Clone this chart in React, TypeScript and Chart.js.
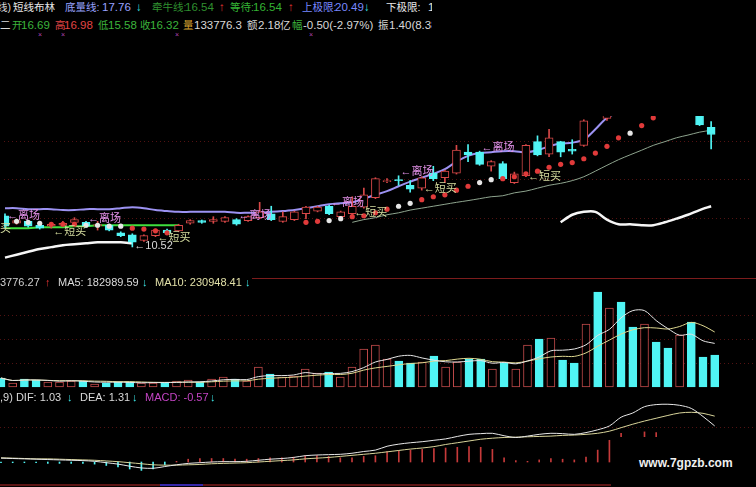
import React, { useEffect, useRef } from "react";
import { Chart, registerables } from "chart.js";

Chart.register(...registerables);

const _ = null;

// ---------- price pane (daily candles) ----------
const candleIndex = Array.from({ length: 62 }, (_v, i) => i);

const opens = [
  12.13, 11.74, 11.84, 11.64, 11.59, 11.64, 11.79, 11.79, 11.62, 11.64,
  11.25, 11.15, 10.86, 11.10, 11.39, 11.35, 11.74, 11.88, 11.84, 11.84,
  11.93, 11.88, 12.03, 12.23, 11.84, 11.93, 12.23, 12.37, 12.62, 12.08,
  12.23, 12.57, 13.06, 13.89, 13.99, 13.70, 13.55, 14.33, 14.09, 14.33,
  15.41, 15.41, 14.68, 14.82, 13.84, 14.19, 15.95, 15.31, 15.95, 15.56,
  15.76, 18.30, 17.15, 18.00, 17.90, 17.60, 18.30, 17.90, 17.50, 18.10,
  17.60, 16.69,
];
const highs = [
  12.23, 11.93, 11.88, 11.69, 11.79, 11.84, 12.03, 11.84, 11.84, 11.69,
  11.30, 11.20, 11.15, 11.44, 11.44, 11.69, 11.93, 11.91, 12.08, 12.08,
  11.98, 12.13, 12.82, 12.62, 12.33, 12.37, 12.62, 12.62, 12.67, 12.37,
  13.11, 13.55, 14.09, 14.04, 14.19, 13.94, 14.14, 14.68, 14.48, 15.76,
  15.80, 15.46, 14.97, 14.92, 14.38, 15.80, 16.25, 16.59, 15.97, 16.05,
  17.08, 18.60, 18.10, 18.60, 18.30, 18.40, 18.60, 18.10, 18.20, 18.30,
  17.70, 16.98,
];
const lows = [
  11.49, 11.69, 11.54, 11.44, 11.49, 11.59, 11.69, 11.54, 11.39, 11.35,
  11.05, 10.52, 10.81, 11.05, 11.20, 11.30, 11.69, 11.74, 11.74, 11.79,
  11.64, 11.84, 11.98, 11.88, 11.79, 11.88, 11.98, 12.33, 12.18, 12.03,
  12.18, 12.52, 13.01, 13.84, 13.70, 13.35, 13.45, 13.94, 13.84, 14.28,
  14.92, 14.73, 14.43, 13.99, 13.79, 14.14, 15.22, 15.17, 15.17, 15.31,
  15.71, 17.30, 17.05, 17.60, 17.40, 17.50, 17.70, 17.40, 17.40, 17.50,
  16.78, 15.58,
];
const closes = [
  11.59, 11.88, 11.59, 11.49, 11.69, 11.74, 11.93, 11.59, 11.67, 11.39,
  11.10, 10.76, 11.10, 11.39, 11.25, 11.64, 11.88, 11.79, 11.93, 12.03,
  11.69, 12.08, 12.33, 11.93, 12.08, 12.33, 12.57, 12.57, 12.23, 12.33,
  12.62, 13.21, 14.04, 13.94, 13.94, 13.50, 14.09, 14.04, 14.43, 15.51,
  15.27, 14.78, 14.92, 14.04, 14.29, 15.76, 15.27, 16.15, 15.41, 15.46,
  17.03, 17.45, 17.90, 17.80, 17.50, 18.20, 17.90, 17.50, 18.00, 17.60,
  16.82, 16.32,
];

// 底量线 (lavender band line)
const bottomVolumeLine = [
  12.52, 12.52, 12.47, 12.47, 12.47, 12.42, 12.42, 12.47, 12.47, 12.47,
  12.52, 12.57, 12.52, 12.42, 12.37, 12.33, 12.33, 12.33, 12.33, 12.33,
  12.28, 12.28, 12.28, 12.33, 12.37, 12.42, 12.52, 12.62, 12.72, 12.77,
  12.82, 13.01, 13.21, 13.40, 13.65, 13.89, 14.09, 14.29, 14.53, 14.92,
  15.22, 15.36, 15.41, 15.46, 15.46, 15.41, 15.51, 15.71, 15.85, 15.90,
  16.05, 16.59, 17.18, 17.45, 17.60, 17.70, 17.75, 17.80, 17.80, 17.80,
  17.78, 17.76,
];
// 牵牛线 (thin grey-green line)
const pullLine = [
  _, _, _, _, _, _, _, _, _, _,
  _, _, _, _, _, _, _, _, _, _,
  _, _, _, _, _, _, _, _, _, _,
  11.79, 11.93, 12.03, 12.18, 12.28, 12.42, 12.52, 12.62, 12.72, 12.82,
  12.91, 13.01, 13.11, 13.16, 13.31, 13.40, 13.55, 13.70, 13.80, 13.94,
  14.14, 14.43, 14.73, 15.02, 15.27, 15.51, 15.76, 15.95, 16.15, 16.29,
  16.44, 16.54,
];
// 下极限 (thick white line)
const lowerLimit = [
  9.97, 10.12, 10.27, 10.41, 10.51, 10.61, 10.66, 10.71, 10.76, 10.76,
  10.76, 10.71, _, _, _, _, _, _, _, _,
  _, _, _, _, _, _, _, _, _, _,
  _, _, _, _, _, _, _, _, _, _,
  _, _, _, _, _, _, _, _, 11.79, 12.18,
  12.33, 12.33, 11.93, 11.69, 11.69, 11.64, 11.64, 11.79, 11.98, 12.18,
  12.42, 12.62,
];
// 等待 (green line)
const waitLine = [
  11.49, 11.49, 11.49, 11.54, 11.54, 11.54, 11.59, 11.59, 11.64, 11.64,
  11.64, 11.64, 11.64, 11.64, 11.64, 11.64, _, _, _, _,
  _, _, _, _, _, _, _, _, _, _,
  _, _, _, _, _, _, _, _, _, _,
  _, _, _, _, _, _, _, _, _, _,
  _, _, _, _, _, _, _, _, _, _,
  _, _,
];
// dotted trail (r = red dot, w = white dot)
const dotValues = [
  _, 11.84, 11.79, 11.74, 11.69, 11.69, 11.69, 11.64, 11.64, 11.59,
  11.59, 11.49, 11.44, 11.35, 11.25, _, _, _, _, _,
  _, _, _, _, _, _, 11.79, 11.84, 11.88, 11.98,
  12.08, 12.13, 12.28, 12.47, 12.62, 12.77, 12.96, 13.11, 13.21, 13.45,
  13.65, 13.84, 13.99, 14.04, 14.14, 14.29, 14.43, 14.63, 14.78, 14.87,
  15.07, 15.36, 15.71, 16.15, 16.39, 16.78, 17.18, _, _, _,
  _, _,
];
const dotKinds = (
  "-" + "www" + "rrr" + "wwww" + "rrrr" + "-----------" + "rr" + "ww" + "rrrr" +
  "ww" + "rrrrr" + "ww" + "rrrrrrrrrrr" + "w" + "rr" + "-----"
).split("");

// signal labels
const exitIdx = [0, 7, 20, 28, 34, 41];
const exitPrice = [12.13, 11.98, 12.13, 12.77, 14.38, 15.61];
const buyIdx = [-2.5, 4, 13, 30, 36, 45];
const buyPrice = [11.44, 11.3, 11.0, 12.28, 13.5, 14.14];
const lowMarkIdx = 11;
const lowMarkPrice = 10.52;

// ---------- volume pane ----------
const volumes = [
  37600, 16800, 33500, 29200, 21000, 20800, 25100, 25000, 12600, 16700,
  20900, 21100, 16800, 16600, 16900, 25200, 29300, 20800, 33400, 41900,
  33500, 25000, 83700, 54300, 41700, 46000, 75300, 58500, 62600, 41900,
  83500, 158900, 175600, 117000, 108700, 100400, 104500, 129600, 83500, 104600,
  117100, 116900, 75200, 100300, 75300, 175500, 200700, 204800, 112900, 100300,
  263300, 397100, 330200, 355300, 250800, 263300, 188100, 163000, 217400, 271700,
  125400, 133776,
];

// ---------- MACD pane ----------
const difValues = [
  0.11, 0.10, 0.09, 0.08, 0.07, 0.06, 0.05, 0.04, 0.02, -0.02,
  -0.06, -0.12, -0.17, -0.18, -0.13, -0.08, -0.04, -0.02, 0.00, 0.01,
  0.01, 0.02, 0.05, 0.08, 0.10, 0.13, 0.18, 0.20, 0.21, 0.22,
  0.25, 0.30, 0.34, 0.45, 0.51, 0.55, 0.58, 0.62, 0.66, 0.73,
  0.79, 0.81, 0.82, 0.75, 0.70, 0.74, 0.79, 0.82, 0.81, 0.79,
  0.84, 0.92, 1.03, 1.28, 1.40, 1.58, 1.64, 1.65, 1.62, 1.53,
  1.30, 1.03,
];
const deaValues = [
  0.12, 0.11, 0.10, 0.09, 0.09, 0.08, 0.07, 0.06, 0.05, 0.03,
  0.01, -0.02, -0.05, -0.08, -0.09, -0.09, -0.08, -0.07, -0.05, -0.04,
  -0.03, -0.02, 0.00, 0.02, 0.04, 0.06, 0.09, 0.11, 0.13, 0.16,
  0.19, 0.22, 0.25, 0.29, 0.33, 0.37, 0.40, 0.44, 0.50, 0.55,
  0.60, 0.65, 0.68, 0.70, 0.71, 0.72, 0.73, 0.74, 0.76, 0.77,
  0.79, 0.82, 0.88, 0.98, 1.08, 1.17, 1.25, 1.33, 1.40, 1.42,
  1.39, 1.31,
];
const macdValues = [
  -0.02, -0.02, -0.02, -0.02, -0.04, -0.04, -0.04, -0.04, -0.06, -0.10,
  -0.14, -0.20, -0.24, -0.20, -0.08, 0.02, 0.08, 0.10, 0.10, 0.10,
  0.08, 0.08, 0.10, 0.12, 0.12, 0.14, 0.18, 0.18, 0.16, 0.12,
  0.12, 0.16, 0.18, 0.30, 0.32, 0.34, 0.36, 0.38, 0.40, 0.42,
  0.44, 0.42, 0.36, 0.12, 0.04, 0.02, 0.06, 0.10, 0.08, 0.06,
  0.14, 0.34, 0.62, 0.82, 0.68, 0.86, 0.84, 0.64, 0.40, 0.16,
  -0.28, -0.57,
];

// grid levels
const priceGrid = [12, 14, 16];
const volumeGrid = [100000, 200000, 300000];
const macdGrid = [1];

// ---------- styling ----------
const UP = "#d84848";
const DOWN = "#50f4f4";
const FONT = '"Liberation Sans", "Noto Sans CJK SC", sans-serif';

const xScale = { type: "linear", min: -0.0855, max: 64.53, display: false, offset: false };

const pts = (vals: (number | null)[]) => vals.map((v, i) => ({ x: i, y: v }));
const isUp = (i: number) => closes[i] >= opens[i];

const movingAverage = (vals: number[], n: number) =>
  vals.map((_v, i) => {
    const s = vals.slice(Math.max(0, i - n + 1), i + 1);
    return s.reduce((a, b) => a + b, 0) / s.length;
  });

function gridPlugin(levels: number[]) {
  return {
    id: "dottedGrid",
    beforeDatasetsDraw(chart: any) {
      const { ctx, chartArea, scales } = chart;
      ctx.save();
      ctx.strokeStyle = "rgba(110,24,24,0.75)";
      ctx.lineWidth = 1;
      ctx.setLineDash([1, 3]);
      levels.forEach((v) => {
        const y = Math.round(scales.y.getPixelForValue(v)) + 0.5;
        ctx.beginPath();
        ctx.moveTo(chartArea.left, y);
        ctx.lineTo(chartArea.right, y);
        ctx.stroke();
      });
      ctx.restore();
    },
  };
}

const signalPlugin = {
  id: "signalLabels",
  afterDatasetsDraw(chart: any) {
    const { ctx, scales } = chart;
    const X = (i: number) => scales.x.getPixelForValue(i);
    const Y = (p: number) => scales.y.getPixelForValue(p);
    ctx.save();
    ctx.textBaseline = "middle";
    ctx.font = '11px "Liberation Sans", "Noto Sans CJK SC"';
    exitIdx.forEach((i, k) => {
      ctx.fillStyle = "#e492ea";
      ctx.fillText("←离场", X(i) + 2, Y(exitPrice[k]));
    });
    buyIdx.forEach((i, k) => {
      ctx.fillStyle = "#d6dea0";
      ctx.fillText("←短买", X(i) + 2, Y(buyPrice[k]));
    });
    ctx.fillStyle = "#d8d8d8";
    ctx.font = '11px "Liberation Sans"';
    ctx.fillText("←" + lowMarkPrice.toFixed(2), X(lowMarkIdx) + 2, Y(lowMarkPrice) - 1);
    ctx.restore();
  },
};

const baseOptions = (yMin: number, yMax: number) => ({
  animation: false,
  responsive: false,
  maintainAspectRatio: false,
  devicePixelRatio: 1,
  events: [],
  layout: { padding: 0 },
  plugins: { legend: { display: false }, tooltip: { enabled: false }, title: { display: false } },
  scales: {
    x: xScale,
    y: { type: "linear", display: false, min: yMin, max: yMax },
  },
});

function makePriceChart(canvas: HTMLCanvasElement) {
  const upDown = candleIndex.map((i) => isUp(i));
  return new Chart(canvas, {
    type: "bar",
    data: {
      datasets: [
        {
          type: "line",
          data: pts(dotValues),
          showLine: false,
          pointRadius: 2.6,
          pointBorderWidth: 0,
          pointBackgroundColor: dotKinds.map((k) => (k === "w" ? "#e6e6e6" : "#e03a3a")),
        },
        {
          type: "bar",
          data: candleIndex.map((i) => ({ x: i, y: [Math.min(opens[i], closes[i]), Math.max(opens[i], closes[i])] })),
          backgroundColor: upDown.map((u) => (u ? "#000000" : DOWN)),
          borderColor: upDown.map((u) => (u ? UP : DOWN)),
          borderWidth: 1,
          borderSkipped: false,
          barThickness: 8,
          grouped: false,
        },
        {
          type: "bar",
          data: candleIndex.map((i) => ({ x: i, y: [lows[i], highs[i]] })),
          backgroundColor: upDown.map((u) => (u ? UP : DOWN)),
          borderWidth: 0,
          barThickness: 1,
          grouped: false,
        },
        { type: "line", data: pts(bottomVolumeLine), borderColor: "#9c92f2", borderWidth: 2, pointRadius: 0, tension: 0.3 },
        { type: "line", data: pts(pullLine), borderColor: "#8ea48e", borderWidth: 1, pointRadius: 0, tension: 0.3 },
        { type: "line", data: pts(waitLine), borderColor: "#3ee03e", borderWidth: 2, pointRadius: 0 },
        { type: "line", data: pts(lowerLimit), borderColor: "#f6f6f6", borderWidth: 2.5, pointRadius: 0, tension: 0.3 },
      ],
    },
    options: baseOptions(9.434, 17.274) as any,
    plugins: [gridPlugin(priceGrid), signalPlugin],
  } as any);
}

function makeVolumeChart(canvas: HTMLCanvasElement) {
  const upDown = candleIndex.map((i) => isUp(i));
  return new Chart(canvas, {
    type: "bar",
    data: {
      datasets: [
        { type: "line", data: pts(movingAverage(volumes, 5)), borderColor: "#e6e6e6", borderWidth: 1, pointRadius: 0, tension: 0.3 },
        { type: "line", data: pts(movingAverage(volumes, 10)), borderColor: "#ded890", borderWidth: 1, pointRadius: 0, tension: 0.3 },
        {
          type: "bar",
          data: pts(volumes),
          backgroundColor: upDown.map((u) => (u ? "#000000" : DOWN)),
          borderColor: upDown.map((u) => (u ? "#c04a4a" : DOWN)),
          borderWidth: 1,
          borderSkipped: false,
          barThickness: 8,
          grouped: false,
        },
      ],
    },
    options: baseOptions(-12540, 447260) as any,
    plugins: [gridPlugin(volumeGrid)],
  } as any);
}

function makeMacdChart(canvas: HTMLCanvasElement) {
  return new Chart(canvas, {
    type: "bar",
    data: {
      datasets: [
        { type: "line", data: pts(difValues), borderColor: "#e8e8e8", borderWidth: 1, pointRadius: 0, tension: 0.3 },
        { type: "line", data: pts(deaValues), borderColor: "#d8d49a", borderWidth: 1, pointRadius: 0, tension: 0.3 },
        {
          type: "bar",
          data: pts(macdValues),
          backgroundColor: macdValues.map((v) => (v >= 0 ? "#c63a3a" : DOWN)),
          borderWidth: 0,
          barThickness: 1,
          grouped: false,
        },
      ],
    },
    options: baseOptions(-0.714, 1.771) as any,
    plugins: [gridPlugin(macdGrid)],
  } as any);
}

const T = ({ x, y, c, s = 11.5, children }: any) => (
  <span
    style={{
      position: "absolute",
      left: x,
      top: y - 8,
      height: 16,
      lineHeight: "16px",
      fontSize: s,
      color: c,
      whiteSpace: "nowrap",
      fontFamily: FONT,
    }}
  >
    {children}
  </span>
);

const CJK = 10.5;
const ARROW_UP = "#e83434";
const ARROW_DN = "#3ce6e6";

export default function App() {
  const priceRef = useRef<HTMLCanvasElement>(null);
  const volRef = useRef<HTMLCanvasElement>(null);
  const macdRef = useRef<HTMLCanvasElement>(null);

  useEffect(() => {
    document.body.style.margin = "0";
    document.body.style.background = "#000";
    const charts = [
      makePriceChart(priceRef.current!),
      makeVolumeChart(volRef.current!),
      makeMacdChart(macdRef.current!),
    ];
    return () => charts.forEach((c) => c.destroy());
  }, []);

  const cv = (top: number, h: number): React.CSSProperties => ({
    position: "absolute",
    left: 0,
    top,
    width: 756,
    height: h,
    display: "block",
  });

  return (
    <div style={{ position: "fixed", left: 0, top: 0, width: 756, height: 487, background: "#000", overflow: "hidden" }}>
      {/* separators */}
      <div style={{ position: "absolute", left: 252, top: 278, width: 504, height: 1, background: "#7c1c1c" }} />
      <div style={{ position: "absolute", left: 0, top: 484, width: 611, height: 2, background: "#5c1414" }} />
      <div style={{ position: "absolute", left: 160, top: 484, width: 43, height: 2, background: "#3626a8" }} />

      <canvas ref={priceRef} width={756} height={160} style={cv(112, 160)} />
      <canvas ref={volRef} width={756} height={110} style={cv(280, 110)} />
      <canvas ref={macdRef} width={756} height={87} style={cv(400, 87)} />

      {/* header lines */}
      <div style={{ position: "absolute", left: 0, top: 0, width: 432, height: 40, overflow: "hidden" }}>
        <T x={-3} y={7} c="#d8d8d8" s={CJK}>线)</T>
        <T x={13} y={7} c="#e8e8e8" s={CJK}>短线布林</T>
        <T x={65} y={7} c="#98a2ff" s={CJK}>底量线:</T>
        <T x={102} y={7} c="#98a2ff">17.76</T>
        <T x={136} y={7} c={ARROW_DN}>↓</T>
        <T x={152} y={7} c="#2f8f2f" s={CJK}>牵牛线:</T>
        <T x={185} y={7} c="#2f8f2f">16.54</T>
        <T x={219} y={7} c={ARROW_UP}>↑</T>
        <T x={230} y={7} c="#34b434" s={CJK}>等待:</T>
        <T x={253} y={7} c="#34b434">16.54</T>
        <T x={288} y={7} c={ARROW_UP}>↑</T>
        <T x={302} y={7} c="#7888ff" s={CJK}>上极限:</T>
        <T x={335} y={7} c="#7888ff">20.49</T>
        <T x={364} y={7} c={ARROW_DN}>↓</T>
        <T x={386} y={7} c="#e8e8e8" s={CJK}>下极限:</T>
        <T x={428} y={7} c="#e8e8e8">1</T>

        <T x={0} y={25} c="#d8d8d8" s={CJK}>二</T>
        <T x={12} y={25} c="#3cb43c" s={CJK}>开</T>
        <T x={21} y={25} c="#3cb43c">16.69</T>
        <T x={55} y={25} c="#e04444" s={CJK}>高</T>
        <T x={64} y={25} c="#e04444">16.98</T>
        <T x={98} y={25} c="#3cb43c" s={CJK}>低</T>
        <T x={108} y={25} c="#3cb43c">15.58</T>
        <T x={140} y={25} c="#3cb43c" s={CJK}>收</T>
        <T x={150} y={25} c="#3cb43c">16.32</T>
        <T x={183} y={25} c="#d4a030" s={CJK}>量</T>
        <T x={194} y={25} c="#d8d8d8">133776.3</T>
        <T x={247} y={25} c="#d8d8d8" s={CJK}>额</T>
        <T x={258} y={25} c="#d8d8d8">2.18</T>
        <T x={280} y={25} c="#d8d8d8" s={CJK}>亿</T>
        <T x={292} y={25} c="#3cb43c" s={CJK}>幅</T>
        <T x={303} y={25} c="#d8d8d8">-0.50(-2.97%)</T>
        <T x={378} y={25} c="#d8d8d8" s={CJK}>振</T>
        <T x={389} y={25} c="#d8d8d8">1.40(8.38%)</T>

        <T x={38} y={35} c="#b444b4" s={7}>×</T>
        <T x={61} y={35} c="#b444b4" s={7}>×</T>
        <T x={175} y={35} c="#b444b4" s={7}>×</T>
        <T x={309} y={35} c="#b444b4" s={7}>×</T>
      </div>

      {/* volume header */}
      <T x={0} y={282} c="#cfcfcf" s={11}>3776.27</T>
      <T x={45} y={282} c={ARROW_UP} s={11}>↑</T>
      <T x={58} y={282} c="#dadada" s={11}>MA5: 182989.59</T>
      <T x={142} y={282} c={ARROW_DN} s={11}>↓</T>
      <T x={155} y={282} c="#e2e0a8" s={11}>MA10: 230948.41</T>
      <T x={245} y={282} c={ARROW_DN} s={11}>↓</T>

      {/* MACD header */}
      <T x={0} y={397} c="#dadada" s={11}>,9) DIF: 1.03</T>
      <T x={67} y={397} c={ARROW_DN} s={11}>↓</T>
      <T x={80} y={397} c="#dadada" s={11}>DEA: 1.31</T>
      <T x={132} y={397} c={ARROW_DN} s={11}>↓</T>
      <T x={145} y={397} c="#c444c4" s={11}>MACD: -0.57</T>
      <T x={210} y={397} c={ARROW_DN} s={11}>↓</T>

      {/* watermark */}
      <div style={{ position: "absolute", left: 611, top: 437, width: 145, height: 50, background: "#000" }} />
      <span
        style={{
          position: "absolute",
          left: 639,
          top: 455,
          lineHeight: "16px",
          fontSize: 12,
          fontWeight: "bold",
          color: "#f0f0f0",
          fontFamily: '"Liberation Sans", sans-serif',
          whiteSpace: "nowrap",
        }}
      >
        www.7gpzb.com
      </span>
    </div>
  );
}
